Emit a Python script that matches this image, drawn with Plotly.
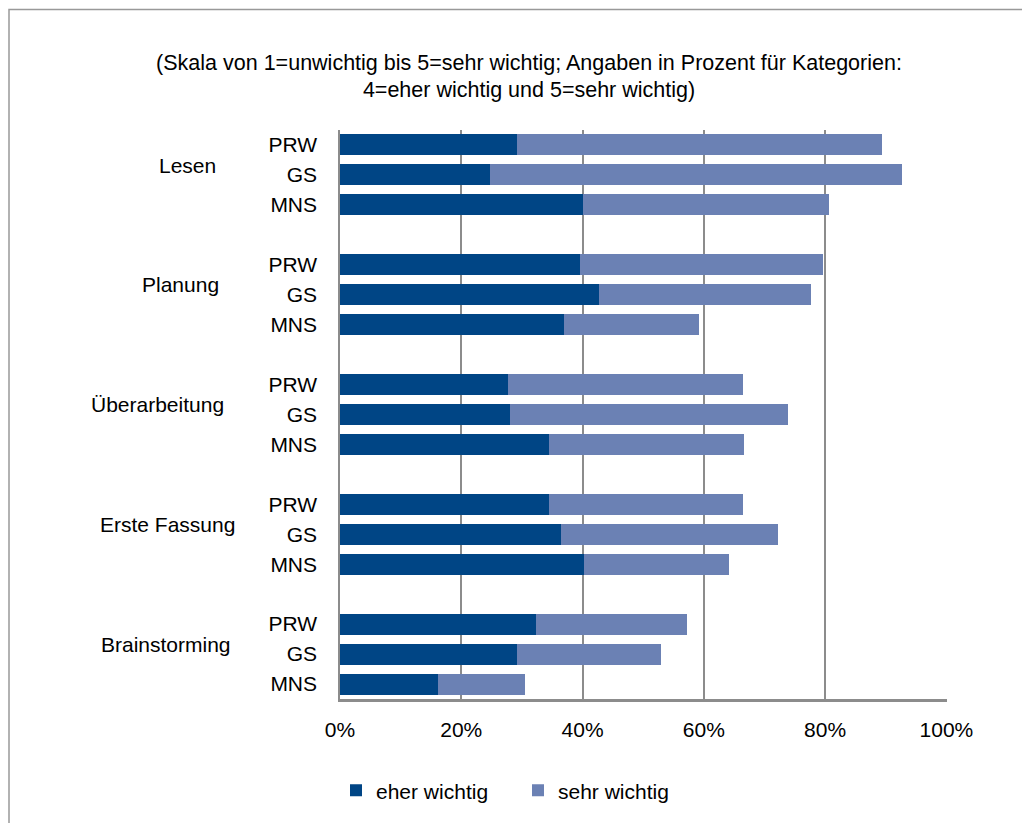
import plotly.graph_objects as go

# data (values in %)
groups = ['Lesen', 'Planung', 'Überarbeitung', 'Erste Fassung', 'Brainstorming']
schools = ['PRW', 'GS', 'MNS']

eher_wichtig = [
    [29.2, 24.7, 40.0],   # Lesen
    [39.5, 42.7, 37.0],   # Planung
    [27.7, 28.0, 34.5],   # Überarbeitung
    [34.5, 36.4, 40.3],   # Erste Fassung
    [32.4, 29.2, 16.1],   # Brainstorming
]
sehr_wichtig = [
    [60.1, 68.0, 40.6],
    [40.1, 34.9, 22.2],
    [38.7, 45.8, 32.1],
    [31.9, 35.9, 23.9],
    [24.9, 23.7, 14.4],
]

x_ticks = [0, 0.2, 0.4, 0.6, 0.8, 1.0]
x_ticktext = ['0%', '20%', '40%', '60%', '80%', '100%']

dark = '#004585'
light = '#6b81b4'
grid = '#8c8c8c'
font_family = 'Liberation Sans, Arial, sans-serif'

# figure sits 8px into the page (body margin), so page px -> figure px is -8
W, H = 1022, 815
L, R, T, B = 332, 83, 122, 122
pw = W - L - R
ph = H - T - B


def px_to_paper_x(px):
    # px measured in page coordinates
    return (px - 8 - L) / pw


def px_to_paper_y(py):
    return (H - B - (py - 8)) / ph


# one row per school, one empty row between groups
ypos, ylabels, dark_vals, light_vals = [], [], [], []
for g, grp in enumerate(groups):
    for s, sch in enumerate(schools):
        ypos.append(g * 4 + s)
        ylabels.append(sch)
        dark_vals.append(eher_wichtig[g][s] / 100)
        light_vals.append(sehr_wichtig[g][s] / 100)

fig = go.Figure()
fig.add_trace(
    go.Bar(
        y=ypos, x=dark_vals, orientation='h', name='eher wichtig',
        marker={'color': dark, 'line': {'width': 0}}, width=0.7
    )
)
fig.add_trace(
    go.Bar(
        y=ypos, x=light_vals, orientation='h', name='sehr wichtig',
        marker={'color': light, 'line': {'width': 0}}, width=0.7
    )
)

# group labels on the left
group_label_x = [187, 180, 157, 167, 166]
annotations = []
for g, grp in enumerate(groups):
    annotations.append({
        'text': grp, 'xref': 'paper', 'yref': 'y',
        'x': px_to_paper_x(group_label_x[g]), 'y': g * 4 + 1 - 0.33,
        'xanchor': 'center', 'yanchor': 'middle', 'showarrow': False,
        'font': {'size': 21, 'color': '#000000', 'family': font_family}
    })

layout = {
    'width': W,
    'height': H,
    'margin': {'l': L, 'r': R, 't': T, 'b': B, 'pad': 0},
    'barmode': 'stack',
    'plot_bgcolor': 'white',
    'paper_bgcolor': 'white',
    'font': {'family': font_family, 'color': '#000000', 'size': 21},
    'title': {
        'text': '(Skala von 1=unwichtig bis 5=sehr wichtig; Angaben in Prozent für Kategorien:<br>4=eher wichtig und 5=sehr wichtig)',
        'xref': 'container', 'x': 521 / W, 'xanchor': 'center',
        'yref': 'container', 'y': 1 - 61.5 / H, 'yanchor': 'middle',
        'font': {'size': 21.5, 'color': '#000000', 'family': font_family}
    },
    'xaxis': {
        'range': [0, 1.001],
        'tickvals': x_ticks,
        'ticktext': x_ticktext,
        'showgrid': True,
        'gridcolor': grid,
        'gridwidth': 1.5,
        'showline': True,
        'linecolor': grid,
        'linewidth': 2.5,
        'zeroline': False,
        'ticks': '',
        'ticklabelstandoff': 10,
        'tickfont': {'size': 21},
        'fixedrange': True,
    },
    'yaxis': {
        'range': [18.5, -0.5],
        'tickvals': ypos,
        'ticktext': ylabels,
        'showgrid': False,
        'showline': True,
        'linecolor': grid,
        'linewidth': 1.5,
        'zeroline': False,
        'ticks': '',
        'ticklabelstandoff': 17,
        'tickfont': {'size': 21},
        'fixedrange': True,
    },
    'legend': {
        'orientation': 'h',
        'x': px_to_paper_x(336), 'xanchor': 'left',
        'y': px_to_paper_y(793), 'yanchor': 'middle',
        'font': {'size': 21},
        'entrywidth': 137,
        'traceorder': 'normal',
    },
    'annotations': annotations,
    'shapes': [
        # outer frame (only left and top edges visible)
        {
            'type': 'rect', 'xref': 'paper', 'yref': 'paper',
            'x0': px_to_paper_x(9), 'x1': px_to_paper_x(1060),
            'y0': px_to_paper_y(860), 'y1': px_to_paper_y(9),
            'line': {'color': '#999999', 'width': 1.5}, 'layer': 'below'
        }
    ],
    'showlegend': True,
}

fig.update_layout(layout)

fig.write_html('out.html')
